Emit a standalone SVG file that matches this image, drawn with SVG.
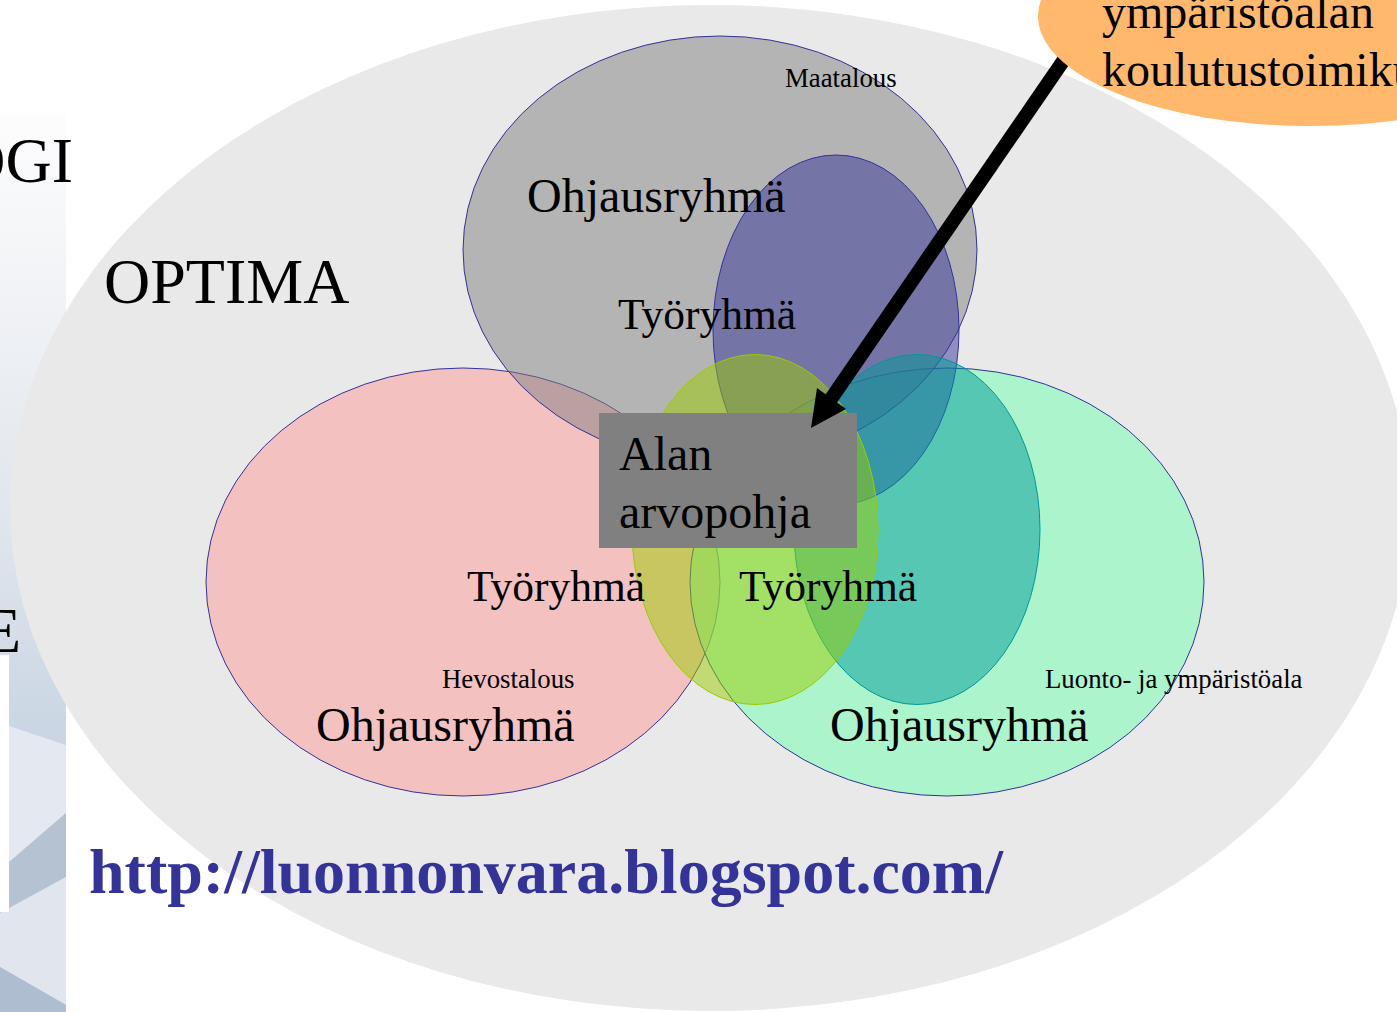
<svg xmlns="http://www.w3.org/2000/svg" width="1397" height="1012" viewBox="0 0 1397 1012">
<defs>
<linearGradient id="side" x1="0" y1="0" x2="0" y2="1"><stop offset="0" stop-color="#fdfdfe"/><stop offset="0.2" stop-color="#f1f3f6"/><stop offset="0.45" stop-color="#e0e6ed"/><stop offset="0.7" stop-color="#c9d5e3"/><stop offset="1" stop-color="#c0cfdf"/></linearGradient>
</defs>
<style>
text{font-family:"Liberation Serif","Times New Roman",serif;fill:#000}
.l{font-size:64px}.m{font-size:48px}.t{font-size:43.5px}.s{font-size:26.8px}
.big{stroke:#333399;stroke-width:1;fill-opacity:.5}
.oval{stroke-width:1;fill-opacity:.5}
</style>
<rect width="1397" height="1012" fill="#fff"/>
<g id="sidebar">
<rect x="0" y="113" width="66" height="899" fill="url(#side)"/>
<polygon points="0,723 66,745 66,813 0,870" fill="#e4e8f0"/>
<polygon points="0,870 66,813 66,877 0,913" fill="#b4c2d2"/>
<polygon points="0,913 66,877 66,1005 0,967" fill="#e0e5ee"/>
<polygon points="0,967 66,1005 66,1012 0,1012" fill="#aebdd0"/>
<rect x="0" y="655" width="9" height="257" fill="#fff"/>
<text class="l" x="73" y="182" text-anchor="end">OGI</text>
<text class="l" x="21" y="652" text-anchor="end">E</text>
</g>
<g id="optima"><ellipse cx="710" cy="508" rx="700" ry="503" fill="#e9e9e9"/></g>
<g id="hevostalous"><ellipse class="big" cx="463" cy="582" rx="257" ry="214" fill="#ff9999"/></g>
<g id="luonto"><ellipse class="big" cx="947" cy="582" rx="257" ry="214" fill="#6dffaf"/></g>
<g id="maatalous"><ellipse class="big" cx="720" cy="250" rx="257" ry="214" fill="#808080"/></g>
<g id="tyoryhma-sininen"><ellipse class="oval" cx="836" cy="330" rx="123" ry="175" fill="#333399" stroke="#333399"/></g>
<g id="tyoryhma-turkoosi"><ellipse class="oval" cx="917" cy="529.5" rx="123" ry="175" fill="#009999" stroke="#009999"/></g>
<g id="tyoryhma-oliivi"><ellipse class="oval" cx="755" cy="529.5" rx="123" ry="175" fill="#99cc00" stroke="#99cc00"/></g>
<g id="arvopohja"><rect x="599" y="413" width="258" height="135" fill="#808080"/></g>
<g id="connectors"><path d="M1070 51L831 399" stroke="#000" stroke-width="14" fill="none"/><polygon points="811,428 817,388 846,409"/></g>
<g id="toimikunta"><ellipse cx="1310" cy="16" rx="272" ry="110" fill="#ffb86c"/>
<text class="m" x="1102" y="28">ympäristöalan</text><text class="m" x="1102" y="86">koulutustoimiku</text></g>
<g id="labels">
<text class="l" x="104" y="303">OPTIMA</text>
<text class="s" x="442" y="688">Hevostalous</text>
<text class="m" x="316" y="741">Ohjausryhmä</text>
<text class="s" x="1045" y="688">Luonto- ja ympäristöala</text>
<text class="m" x="830" y="741">Ohjausryhmä</text>
<text class="s" x="785" y="87">Maatalous</text>
<text class="m" x="527" y="212">Ohjausryhmä</text>
<text class="t" x="618" y="329">Työryhmä</text>
<text class="t" x="467" y="601">Työryhmä</text>
<text class="t" x="739" y="601">Työryhmä</text>
<text class="m" x="619" y="470">Alan</text><text class="m" x="619" y="528">arvopohja</text>
</g>
<g id="url"><text x="89" y="893" font-size="64" font-weight="bold" style="fill:#333399">http://luonnonvara.blogspot.com/</text></g>
</svg>
